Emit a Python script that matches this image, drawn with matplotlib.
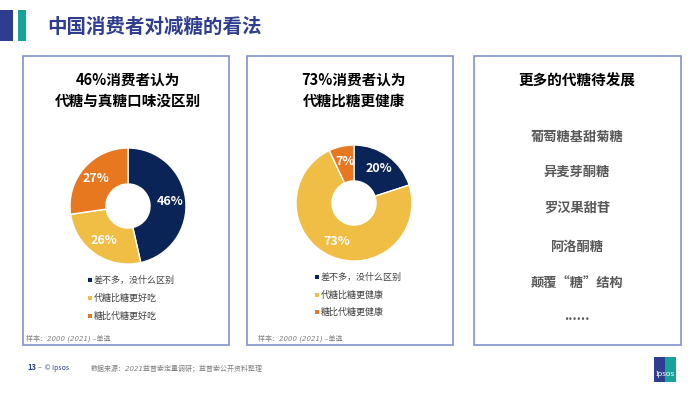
import matplotlib.pyplot as plt
from matplotlib.patches import Rectangle

plt.rcParams['font.family'] = ['Noto Sans CJK SC', 'DejaVu Sans']

# data
legend1 = ['差不多，没什么区别', '代糖比糖更好吃', '糖比代糖更好吃']
values1 = [46, 26, 27]
legend2 = ['差不多，没什么区别', '代糖比糖更健康', '糖比代糖更健康']
values2 = [20, 73, 7]
title1 = ['46%消费者认为', '代糖与真糖口味没区别']
title2 = ['73%消费者认为', '代糖比糖更健康']
title3 = '更多的代糖待发展'
items3 = ['葡萄糖基甜菊糖', '异麦芽酮糖', '罗汉果甜苷', '阿洛酮糖', '颠覆“糖”结构', '......']
sample_note = '样本：2000 (2021) –单选'
source_note = '数据来源：2021益普索定量调研；益普索公开资料整理'

colors = ['#0B2458', '#F0BD45', '#E7781F']
border = '#8391C9'
navy = '#2E3D8F'
teal = '#17A398'

W, H = 700, 394
fig = plt.figure(figsize=(7, 3.94), dpi=100)
bg = fig.add_axes([0, 0, 1, 1])
bg.set_xlim(0, W)
bg.set_ylim(H, 0)
bg.axis('off')

# header
bg.add_patch(Rectangle((0, 10), 13, 31, color=navy, lw=0))
bg.add_patch(Rectangle((18, 10), 8, 31, color=teal, lw=0))
bg.text(47, 27, '中国消费者对减糖的看法', fontsize=14, fontweight='bold',
        color=navy, va='center', ha='left')

# panels
for x0, x1 in [(23, 229), (247, 453), (474, 681)]:
    bg.add_patch(Rectangle((x0, 56), x1 - x0, 289, fill=False,
                           edgecolor=border, lw=1.2))


def donut(cx, cy, r, vals, titles, labels, leg_x, leg_y, note_x):
    bg.text(cx, 80, titles[0], fontsize=10.5, fontweight='bold', ha='center', va='center')
    bg.text(cx, 101, titles[1], fontsize=10.5, fontweight='bold', ha='center', va='center')
    lim = 1.1
    size = 2 * lim * r
    ax = fig.add_axes([(cx - size / 2) / W, 1 - (cy + size / 2) / H, size / W, size / H])
    total = sum(vals)
    ax.pie(vals, colors=colors, startangle=90, counterclock=False, radius=1,
           wedgeprops=dict(width=0.62, edgecolor='white', linewidth=1),
           autopct=lambda p: f'{round(p * total / 100)}%', pctdistance=0.73,
           textprops=dict(color='white', fontsize=9, fontweight='bold'))
    ax.set_xlim(-lim, lim)
    ax.set_ylim(-lim, lim)
    ax.set_aspect('equal')
    ax.axis('off')
    for i, (lab, c) in enumerate(zip(labels, colors)):
        y = leg_y[i]
        bg.add_patch(Rectangle((leg_x - 5, y - 2), 4, 4, color=c, lw=0))
        bg.text(leg_x + 1, y, lab, fontsize=6.5, color='#404040', va='center', ha='left')
    bg.text(note_x, 338, sample_note, fontsize=5, color='#7F7F7F', style='italic',
            family=['DejaVu Sans', 'Noto Sans CJK SC'], va='center', ha='left')


donut(128, 206, 58, values1, title1, legend1, 93, [280, 298, 316], 26)
donut(354, 203, 58, values2, title2, legend2, 320, [277, 295, 312], 258)

# third panel
bg.text(577, 81, title3, fontsize=10.5, fontweight='bold', ha='center', va='center')
item_y = [137, 172, 208, 247, 283, 316]
for t, y in zip(items3, item_y):
    bg.text(577, y, t, fontsize=9.5, fontweight='bold', color='#595959',
            ha='center', va='center')

# footer
bg.text(27, 368, '13', fontsize=5.5, fontweight='bold', color=navy, va='center')
bg.text(38, 368, '–  © Ipsos', fontsize=5, color=navy, va='center')
bg.text(91, 368, source_note, fontsize=5, color='#7F7F7F', style='italic',
        family=['DejaVu Sans', 'Noto Sans CJK SC'], va='center')

# logo
bg.add_patch(Rectangle((654, 357), 11, 25, color=navy, lw=0))
bg.add_patch(Rectangle((665, 357), 11, 25, color=teal, lw=0))
bg.text(665, 375, 'Ipsos', fontsize=5.5, color='white', fontweight='bold',
        family='Noto Sans', ha='center', va='center')

fig.savefig('out.png', dpi=100)
